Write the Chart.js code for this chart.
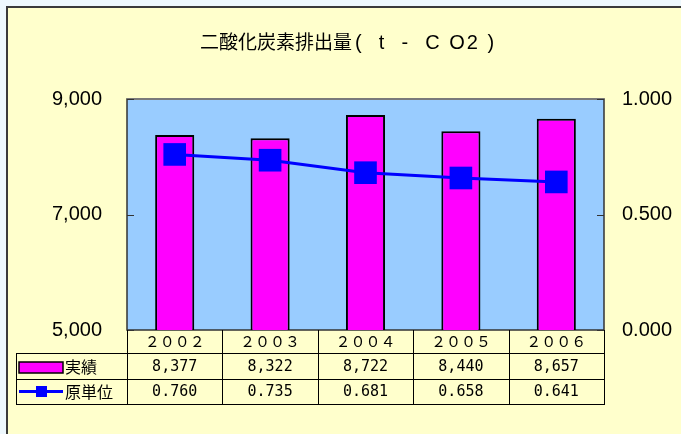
<!DOCTYPE html>
<html>
<head>
<meta charset="utf-8">
<script src="https://cdn.jsdelivr.net/npm/chart.js@4/dist/chart.umd.min.js"></script>
<style>
  html, body { margin: 0; padding: 0; background: #eef8fd; }
  #c { display: block; }
</style>
</head>
<body>
<canvas id="c" width="681" height="434"></canvas>
<script>
// Yearly CO2 emissions (t-CO2) and emission intensity
const categories = ['２００２', '２００３', '２００４', '２００５', '２００６'];
const actual = [8377, 8322, 8722, 8440, 8657];
const intensity = [0.760, 0.735, 0.681, 0.658, 0.641];
const leftTicks = [5000, 7000, 9000];
const rightTicks = [0, 0.5, 1];
const seriesNames = ['実績', '原単位'];
const titleMain = '二酸化炭素排出量';
const titleUnit = '(  t  -  C O2 )';

const fmtLeft = v => Number(v).toLocaleString('en-US');
const fmtRight = v => Number(v).toFixed(3);

const COL = {
  page: '#eef8fd',
  frame: '#ffffcc',
  plot: '#99ccff',
  bar: '#ff00ff',
  line: '#0000ff',
  ink: '#000000'
};

const backdrop = {
  id: 'backdrop',
  beforeDraw(chart) {
    const { ctx, chartArea: a } = chart;
    ctx.save();
    ctx.fillStyle = COL.page;
    ctx.fillRect(0, 0, chart.width, chart.height);
    ctx.fillStyle = COL.frame;
    ctx.fillRect(7, 7, chart.width + 20, chart.height + 20);
    ctx.strokeStyle = '#3a3a3a';
    ctx.lineWidth = 2;
    ctx.strokeRect(7, 7, chart.width + 20, chart.height + 20);
    ctx.fillStyle = COL.plot;
    ctx.fillRect(a.left, a.top, a.right - a.left, a.bottom - a.top);
    ctx.restore();
  },
  beforeDatasetsDraw(chart) {
    const { ctx, chartArea: a, scales } = chart;
    ctx.save();
    ctx.strokeStyle = '#333333';
    ctx.lineWidth = 1.5;
    ctx.strokeRect(a.left, a.top, a.right - a.left, a.bottom - a.top);
    ctx.strokeStyle = '#7a7a7a';
    ctx.lineWidth = 2;
    ctx.beginPath();
    ctx.moveTo(a.left, a.top);
    ctx.lineTo(a.right, a.top);
    ctx.stroke();
    // inward tick marks
    ctx.strokeStyle = '#333333';
    ctx.lineWidth = 1;
    leftTicks.forEach(v => {
      const y = Math.round(scales.y.getPixelForValue(v)) + 0.5;
      ctx.beginPath(); ctx.moveTo(a.left, y); ctx.lineTo(a.left + 7, y); ctx.stroke();
    });
    rightTicks.forEach(v => {
      const y = Math.round(scales.y1.getPixelForValue(v)) + 0.5;
      ctx.beginPath(); ctx.moveTo(a.right, y); ctx.lineTo(a.right - 7, y); ctx.stroke();
    });
    ctx.restore();
  }
};

const dataTable = {
  id: 'dataTable',
  afterDraw(chart) {
    const { ctx, chartArea: a, scales } = chart;
    const x = scales.x;
    const half = (x.getPixelForValue(1) - x.getPixelForValue(0)) / 2;
    const rowTop = a.bottom;
    const row1 = 353, row2 = 379, rowEnd = 404;
    const tableLeft = 16;

    ctx.save();
    // title
    ctx.fillStyle = COL.ink;
    ctx.textBaseline = 'middle';
    ctx.textAlign = 'left';
    ctx.font = '19px "Noto Sans CJK JP"';
    ctx.fillText(titleMain, 200, 42);
    const mainW = ctx.measureText(titleMain).width;
    ctx.font = '20px "Liberation Sans"';
    ctx.letterSpacing = '2px';
    ctx.fillText(titleUnit, 200 + mainW + 3, 43);
    ctx.letterSpacing = '0px';

    // grid of the table
    ctx.strokeStyle = '#000000';
    ctx.lineWidth = 1;
    const hline = (x0, x1, y) => { ctx.beginPath(); ctx.moveTo(x0, y + 0.5); ctx.lineTo(x1, y + 0.5); ctx.stroke(); };
    const vline = (xx, y0, y1) => { ctx.beginPath(); ctx.moveTo(xx + 0.5, y0); ctx.lineTo(xx + 0.5, y1); ctx.stroke(); };
    hline(tableLeft, a.right, row1);
    hline(tableLeft, a.right, row2);
    hline(tableLeft, a.right, rowEnd);
    vline(tableLeft, row1, rowEnd + 1);
    vline(Math.round(a.left), rowTop, rowEnd + 1);
    categories.forEach((c, i) => {
      vline(Math.round(x.getPixelForValue(i) + half), rowTop, rowEnd + 1);
    });

    // values
    ctx.font = '15px "DejaVu Sans Mono"';
    ctx.textAlign = 'center';
    categories.forEach((c, i) => {
      const cx = x.getPixelForValue(i);
      ctx.fillText(fmtLeft(actual[i]), cx, 367);
      ctx.fillText(fmtRight(intensity[i]), cx, 392);
    });

    // legend keys
    ctx.fillStyle = COL.bar;
    ctx.fillRect(19, 362, 44, 11);
    ctx.strokeStyle = '#000';
    ctx.lineWidth = 1.5;
    ctx.strokeRect(19, 362, 44, 11);
    ctx.strokeStyle = COL.line;
    ctx.lineWidth = 3;
    ctx.beginPath(); ctx.moveTo(19, 391.5); ctx.lineTo(63, 391.5); ctx.stroke();
    ctx.fillStyle = COL.line;
    ctx.fillRect(36, 386, 11, 11);

    ctx.fillStyle = COL.ink;
    ctx.font = '16px "Noto Sans CJK JP"';
    ctx.textAlign = 'left';
    ctx.fillText(seriesNames[0], 65, 367);
    ctx.fillText(seriesNames[1], 65, 392);
    ctx.restore();
  }
};

new Chart(document.getElementById('c'), {
  type: 'bar',
  data: {
    labels: categories,
    datasets: [
      {
        type: 'line',
        label: seriesNames[1],
        data: intensity,
        yAxisID: 'y1',
        borderColor: COL.line,
        borderWidth: 3,
        pointStyle: 'rect',
        pointRadius: 16,
        pointHoverRadius: 16,
        pointBackgroundColor: COL.line,
        pointBorderWidth: 0,
        tension: 0,
        order: 1
      },
      {
        type: 'bar',
        label: seriesNames[0],
        data: actual,
        yAxisID: 'y',
        backgroundColor: COL.bar,
        borderColor: '#000000',
        borderWidth: 2,
        barPercentage: 0.41,
        categoryPercentage: 1,
        order: 2
      }
    ]
  },
  options: {
    responsive: false,
    devicePixelRatio: 1,
    animation: false,
    layout: { padding: { top: 99, left: 0, right: 0, bottom: 0 } },
    plugins: {
      legend: { display: false },
      title: { display: false },
      tooltip: { enabled: false }
    },
    scales: {
      x: {
        type: 'category',
        offset: true,
        grid: { display: false, drawTicks: false },
        border: { display: false },
        ticks: {
          color: COL.ink,
          font: { family: '"Noto Sans CJK JP"', size: 15 },
          padding: 2,
          maxRotation: 0,
          autoSkip: false
        },
        afterFit(s) { s.height = 104; }
      },
      y: {
        position: 'left',
        min: 5000,
        max: 9000,
        afterBuildTicks(s) { s.ticks = leftTicks.map(v => ({ value: v })); },
        grid: { display: false, drawTicks: false },
        border: { display: false },
        ticks: {
          color: COL.ink,
          font: { family: '"Liberation Sans"', size: 20 },
          padding: 25,
          callback: v => fmtLeft(v)
        },
        afterFit(s) { s.width = 127; }
      },
      y1: {
        position: 'right',
        min: 0,
        max: 1,
        afterBuildTicks(s) { s.ticks = rightTicks.map(v => ({ value: v })); },
        grid: { display: false, drawTicks: false },
        border: { display: false },
        ticks: {
          color: COL.ink,
          font: { family: '"Liberation Sans"', size: 20 },
          padding: 18,
          callback: v => fmtRight(v)
        },
        afterFit(s) { s.width = 77; }
      }
    }
  },
  plugins: [backdrop, dataTable]
});
</script>
</body>
</html>
